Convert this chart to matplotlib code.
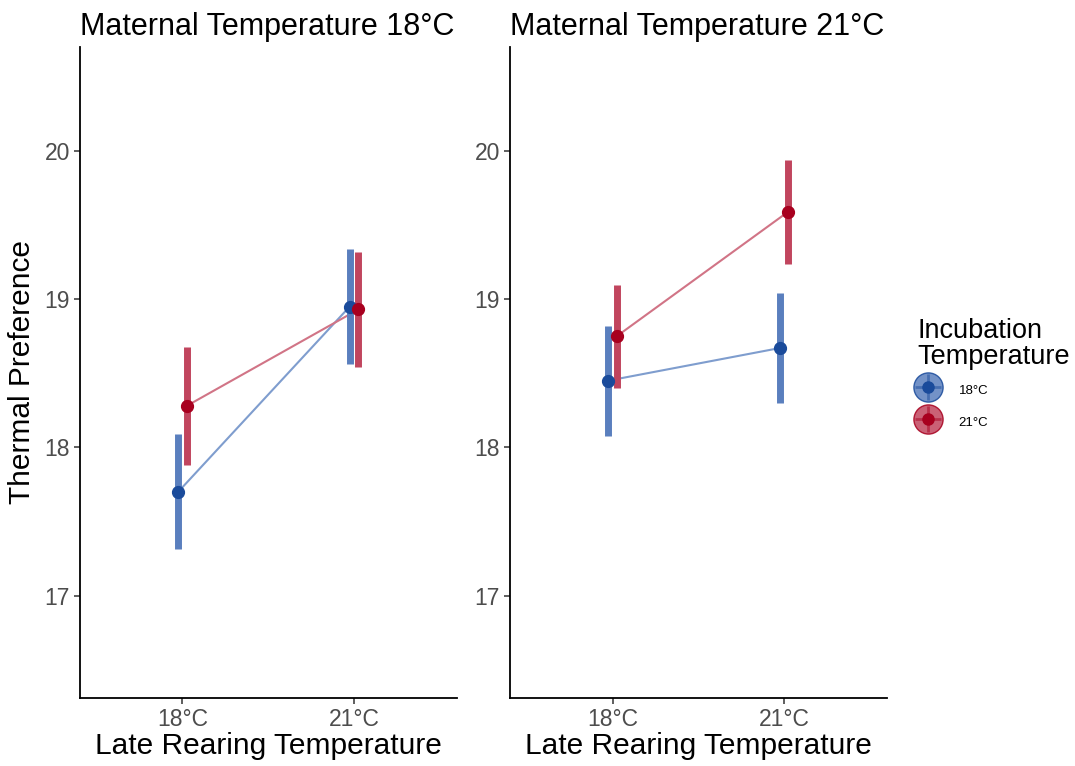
#!/usr/bin/env python3

import numpy as np
from matplotlib import pyplot as plt
from matplotlib.lines import Line2D

plt.rcParams['font.family'] = ['Liberation Sans', 'DejaVu Sans']

rearing = ["18°C", "21°C"]
incubation = ["18°C", "21°C"]
maternal = ["Maternal Temperature 18°C", "Maternal Temperature 21°C"]

# mean thermal preference and standard error, per maternal temperature
mean_m18_inc18 = [17.70, 18.95]
se_m18_inc18 = [0.387, 0.385]
mean_m18_inc21 = [18.28, 18.93]
se_m18_inc21 = [0.396, 0.390]

mean_m21_inc18 = [18.45, 18.67]
se_m21_inc18 = [0.371, 0.371]
mean_m21_inc21 = [18.75, 19.59]
se_m21_inc21 = [0.347, 0.351]

panels = [
    [(mean_m18_inc18, se_m18_inc18), (mean_m18_inc21, se_m18_inc21)],
    [(mean_m21_inc18, se_m21_inc18), (mean_m21_inc21, se_m21_inc21)],
]

point_cols = ["#1a4b9b", "#a8001f"]
bar_cols = ["#5a7fbe", "#c1455e"]
line_cols = ["#7f9dce", "#d17486"]
dodge = [-0.025, 0.025]

fig = plt.figure(figsize=(10.75, 7.66), dpi=100)
W, H = 1075, 766
ax_boxes = [(79.5, 47, 457, 698), (509.6, 47, 887, 698)]

x = np.arange(1, len(rearing) + 1)
for p, (x0, y0, x1, y1) in enumerate(ax_boxes):
    ax = fig.add_axes([x0 / W, 1 - y1 / H, (x1 - x0) / W, (y1 - y0) / H])
    for g, (m, se) in enumerate(panels[p]):
        xs = x + dodge[g]
        ax.plot(xs, m, color=line_cols[g], lw=1.5, zorder=2)
        ax.vlines(xs, np.array(m) - np.array(se), np.array(m) + np.array(se),
                  color=bar_cols[g], lw=5, zorder=3)
        ax.plot(xs, m, 'o', color=point_cols[g], ms=8.5, zorder=4)
    ax.set_xlim(0.4, 2.6)
    ax.set_ylim(16.31, 20.70)
    ax.set_xticks(x)
    ax.set_xticklabels(rearing)
    ax.set_yticks([17, 18, 19, 20])
    ax.spines[['top', 'right']].set_visible(False)
    for s in ['left', 'bottom']:
        ax.spines[s].set_linewidth(1.3)
        ax.spines[s].set_color('black')
    ax.tick_params(labelsize=16.5, labelcolor='#4d4d4d', length=4, width=1.1,
                   color='#333333', pad=3)
    ax.set_title(maternal[p], fontsize=22, loc='left', pad=9)
    ax.set_xlabel("Late Rearing Temperature", fontsize=21.5, labelpad=1)
    if p == 0:
        ax.set_ylabel("Thermal Preference", fontsize=21.5, labelpad=6)

handles = []
for g in range(2):
    big = Line2D([], [], ls='none', marker='o', ms=21, color=bar_cols[g],
                 alpha=0.85, markeredgecolor=point_cols[g], markeredgewidth=1)
    cross = Line2D([], [], ls='none', marker='+', ms=19, mew=2,
                   color=point_cols[g], alpha=0.5)
    dot = Line2D([], [], ls='none', marker='o', ms=8, color=point_cols[g])
    handles.append((big, cross, dot))

leg = fig.legend(handles, incubation, title="Incubation\nTemperature",
                 loc='upper left', bbox_to_anchor=(906 / W, 1 - 306 / H),
                 frameon=False, fontsize=9.5, title_fontsize=19.5,
                 handlelength=1.5, handleheight=2.3, labelspacing=0.68,
                 handletextpad=1.6, alignment='left')
leg.get_title().set_linespacing(1.0)

plt.savefig("out.png", dpi=100)
